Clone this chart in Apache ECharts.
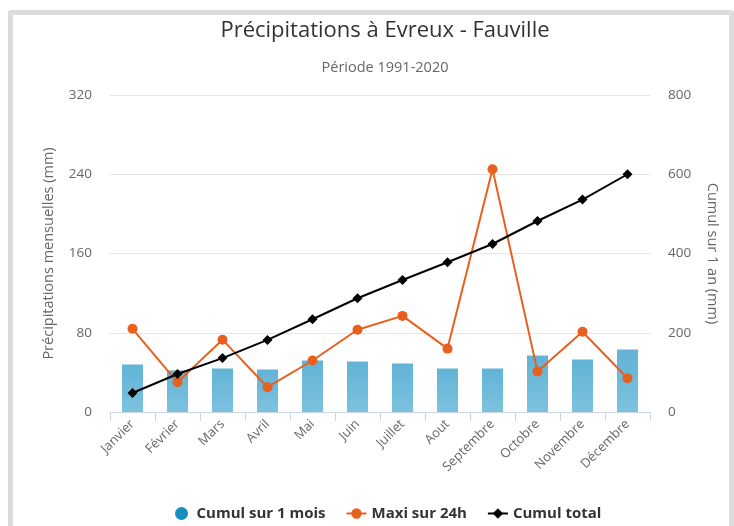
<!DOCTYPE html>
<html><head><meta charset="utf-8">
<script src="https://cdn.jsdelivr.net/npm/echarts@6/dist/echarts.min.js"></script>
<style>
html,body{margin:0;padding:0;background:#fff;}
#frame{position:absolute;left:8px;top:10px;width:716px;height:540px;border:5px solid #dcdcdc;border-bottom:none;border-radius:3px;}
#c{position:absolute;left:0;top:0;width:734px;height:526px;}
</style></head>
<body><div id="frame"></div><div id="c"></div>
<script>
const months = ['Janvier','Février','Mars','Avril','Mai','Juin','Juillet','Aout','Septembre','Octobre','Novembre','Décembre'];
const cumulMois = [48, 42, 44, 43, 52, 51, 49, 44, 44, 57, 53, 63];
const maxi24h = [84, 30, 73, 25, 52, 83, 97, 64, 245, 41, 81, 34];
const cumulTotal = [48, 96, 136, 182, 234, 287, 333, 378, 424, 482, 536, 600];

const font = 'Open Sans';
const chart = echarts.init(document.getElementById('c'));
chart.setOption({
  animation: false,
  backgroundColor: 'transparent',
  title: {
    text: 'Précipitations à Evreux - Fauville',
    subtext: 'Période 1991-2020',
    left: 380, top: 15, textAlign: 'center',
    textStyle: {fontFamily: font, fontSize: 22, fontWeight: 'normal', color: '#333'},
    subtextStyle: {fontFamily: font, fontSize: 14.5, color: '#666'},
    itemGap: 18
  },
  legend: {
    bottom: 0, left: 170,
    itemGap: 20, itemWidth: 20, itemHeight: 13,
    textStyle: {fontFamily: font, fontSize: 15, fontWeight: 'bold', color: '#333'},
    data: [
      {name: 'Cumul sur 1 mois', icon: 'circle', itemStyle: {color: '#1a8dc0'}},
      {name: 'Maxi sur 24h'},
      {name: 'Cumul total'}
    ]
  },
  grid: {left: 110, right: 84, top: 95, bottom: 114},
  xAxis: {
    type: 'category', data: months,
    axisLine: {lineStyle: {color: '#ccd6eb'}},
    axisTick: {show: true, length: 9, lineStyle: {color: '#ccd6eb'}},
    axisLabel: {rotate: 45, color: '#666', fontFamily: font, fontSize: 13, margin: 10}
  },
  yAxis: [
    {type: 'value', min: 0, max: 320, interval: 80,
     name: 'Précipitations mensuelles (mm)', nameLocation: 'middle', nameGap: 54,
     nameTextStyle: {fontFamily: font, fontSize: 14.5, color: '#666'},
     axisLabel: {color: '#666', fontFamily: font, fontSize: 13.5, margin: 18},
     splitLine: {lineStyle: {color: '#e6e6e6'}}},
    {type: 'value', min: 0, max: 800, interval: 200,
     name: 'Cumul sur 1 an (mm)', nameLocation: 'middle', nameGap: 55, nameRotate: -90,
     nameTextStyle: {fontFamily: font, fontSize: 14.5, color: '#666'},
     axisLabel: {color: '#666', fontFamily: font, fontSize: 13.5, margin: 18},
     splitLine: {show: false}}
  ],
  series: [
    {name: 'Cumul sur 1 mois', type: 'bar', yAxisIndex: 0, data: cumulMois, barWidth: 21,
     itemStyle: {color: new echarts.graphic.LinearGradient(0,0,0,1,[{offset:0,color:'#62b3d6'},{offset:1,color:'#7cc2de'}])}},
    {name: 'Maxi sur 24h', type: 'line', yAxisIndex: 0, data: maxi24h,
     symbol: 'circle', symbolSize: 10, lineStyle: {width: 2, color: '#e8601e'},
     itemStyle: {color: '#e8601e'}},
    {name: 'Cumul total', type: 'line', yAxisIndex: 1, data: cumulTotal,
     symbol: 'diamond', symbolSize: 10, lineStyle: {width: 2, color: '#000'},
     itemStyle: {color: '#000'}, z: 5}
  ]
});
</script></body></html>
